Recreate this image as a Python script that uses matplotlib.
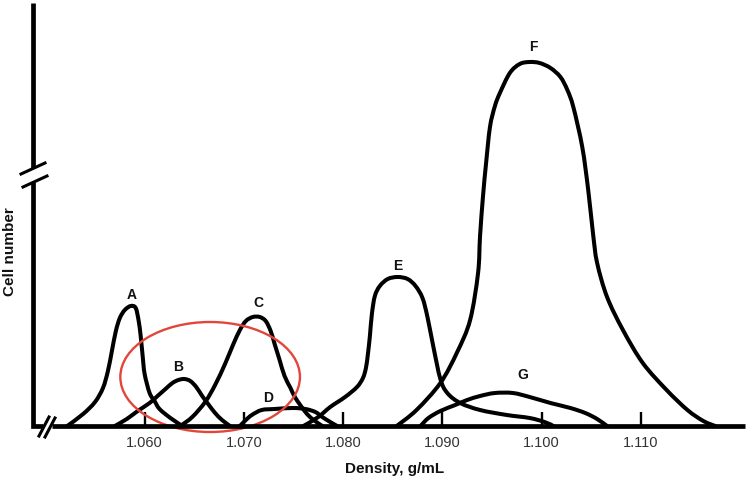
import matplotlib
matplotlib.use("Agg")
import matplotlib.pyplot as plt
from matplotlib.lines import Line2D
from matplotlib.patches import Ellipse, PathPatch
from matplotlib.path import Path

plt.rcParams['font.family'] = ['Liberation Sans', 'DejaVu Sans']

# ---- data (density in g/mL, cell number in arbitrary units) ----
A_x = [1.0522, 1.0538, 1.0550, 1.0558, 1.0563, 1.0567, 1.0571, 1.0575, 1.0580, 1.0586,
       1.0591, 1.0594, 1.0596, 1.0598, 1.0600, 1.0605, 1.0610, 1.0615, 1.0626, 1.0638]
A_y = [0, 12, 24, 38, 55, 75, 95, 108, 116, 120, 118, 105, 90, 70, 52, 33, 25, 17, 8, 0]

B_x = [1.0570, 1.0582, 1.0593, 1.0605, 1.0613, 1.0621, 1.0628, 1.0634, 1.0640, 1.0646,
       1.0652, 1.0658, 1.0664, 1.0671, 1.0678, 1.0686]
B_y = [0, 7, 15, 23, 30, 37, 43, 46, 47, 45, 39, 30, 22, 13, 6, 0]

C_x = [1.0636, 1.0648, 1.0661, 1.0671, 1.0681, 1.0689, 1.0696, 1.0702, 1.0709, 1.0716,
       1.0722, 1.0727, 1.0731, 1.0736, 1.0741, 1.0747, 1.0752, 1.0762, 1.0769, 1.0779]
C_y = [0, 9, 24, 41, 62, 81, 96, 105, 109, 109, 105, 95, 82, 66, 50, 38, 28, 14, 7, 0]

D_x = [1.0696, 1.0702, 1.0708, 1.0718, 1.0731, 1.0749, 1.0762, 1.0772, 1.0779, 1.0787, 1.0794]
D_y = [0, 6, 11, 16, 17, 18, 17, 14, 9, 4, 0]

E_x = [1.0760, 1.0775, 1.0787, 1.0802, 1.0814, 1.0820, 1.0823, 1.0825, 1.0827, 1.0829,
       1.0832, 1.0837, 1.0845, 1.0855, 1.0865, 1.0873, 1.0880, 1.0885, 1.0891, 1.0898,
       1.0905, 1.0918, 1.0938, 1.0965, 1.0988, 1.1003, 1.1012]
E_y = [0, 9, 19, 29, 39, 48, 58, 72, 90, 112, 130, 140, 147, 149, 147, 140, 128, 109, 79, 47,
       33, 23, 16, 11, 8, 4, 0]

F_x = [1.0854, 1.0874, 1.0898, 1.0915, 1.0928, 1.0936, 1.0938, 1.0941, 1.0944, 1.0948,
       1.0953, 1.0958, 1.0968, 1.0978, 1.0988, 1.0998, 1.1009, 1.1019, 1.1026, 1.1032,
       1.1041, 1.1047, 1.1052, 1.1056, 1.1066, 1.1082, 1.1102, 1.1126, 1.1147, 1.1163, 1.1175]
F_y = [0, 16, 43, 74, 106, 153, 190, 230, 262, 299, 320, 333, 353, 362, 364, 363, 358, 349,
       336, 319, 279, 236, 191, 163, 129, 96, 63, 36, 16, 5, 0]

G_x = [1.0878, 1.0886, 1.0898, 1.0913, 1.0925, 1.0938, 1.0953, 1.0971, 1.0988, 1.1009,
       1.1029, 1.1044, 1.1056, 1.1066]
G_y = [0, 8, 15, 21, 26, 30, 33, 33, 29, 23, 18, 13, 7, 0]

curve_names = ['A', 'B', 'C', 'D', 'E', 'F', 'G']
label_x = [1.0587, 1.0634, 1.0715, 1.0724, 1.0855, 1.0992, 1.0981]
label_y = [131, 59, 123, 28, 160, 379, 51]

tick_values = [1.060, 1.070, 1.080, 1.090, 1.100, 1.110]
tick_labels = ['1.060', '1.070', '1.080', '1.090', '1.100', '1.110']

# highlighted region (ellipse): centre density, centre count, width, height
ell_cx, ell_cy, ell_w, ell_h = 1.0666, 49, 0.0181, 110

# ---- figure ----
W, H = 750, 484
fig = plt.figure(figsize=(7.5, 4.84), dpi=100)
ax = fig.add_axes([33 / W, 58 / H, 712 / W, 423 / H])
ax.set_xlim(1.04875, 1.1205)
ax.set_ylim(0, 423)
for s in ax.spines.values():
    s.set_visible(False)
ax.set_yticks([])
ax.set_xticks(tick_values)
ax.set_xticklabels(tick_labels)
ax.tick_params(axis='x', direction='in', length=10, width=1.7, pad=7,
               labelsize=10.5, labelcolor='#333333', color='black')


def smooth_path(xs, ys):
    """Catmull-Rom curve through every given point, as cubic Bezier segments."""
    pts = list(zip(xs, ys))
    n = len(pts)
    verts = [pts[0]]
    codes = [Path.MOVETO]
    for i in range(n - 1):
        p0 = pts[i - 1] if i > 0 else pts[i]
        p1 = pts[i]
        p2 = pts[i + 1]
        p3 = pts[i + 2] if i + 2 < n else pts[i + 1]
        c1 = (p1[0] + (p2[0] - p0[0]) / 6, p1[1] + (p2[1] - p0[1]) / 6)
        c2 = (p2[0] - (p3[0] - p1[0]) / 6, p2[1] - (p3[1] - p1[1]) / 6)
        verts += [c1, c2, p2]
        codes += [Path.CURVE4] * 3
    return Path(verts, codes)


curves = [(A_x, A_y), (B_x, B_y), (C_x, C_y), (D_x, D_y), (E_x, E_y), (F_x, F_y), (G_x, G_y)]
for (cx, cy) in curves:
    ax.add_patch(PathPatch(smooth_path(cx, cy), fill=False, edgecolor='black',
                           lw=2.9, joinstyle='round', capstyle='round',
                           clip_on=False, zorder=3))

for name, lx, ly in zip(curve_names, label_x, label_y):
    ax.text(lx, ly, name, ha='center', va='center', fontsize=10,
            fontweight='bold', color='#111111')

ax.add_patch(Ellipse((ell_cx, ell_cy), ell_w, ell_h, fill=False,
                     edgecolor='#e2463b', lw=1.7, clip_on=False, zorder=4))


def P(px, py):
    return px / W, 1 - py / H


def fline(pts, lw, **kw):
    xs = [P(*p)[0] for p in pts]
    ys = [P(*p)[1] for p in pts]
    fig.add_artist(Line2D(xs, ys, transform=fig.transFigure, color='black',
                          lw=lw, **kw))


# axes lines with break marks
fline([(33, 3), (33, 168)], 3.4, solid_capstyle='butt')
fline([(33, 182), (33, 426), (43, 426)], 3.4, solid_capstyle='butt',
      solid_joinstyle='miter')
fline([(52, 426), (745, 426)], 3.4, solid_capstyle='butt')
fline([(21, 174), (45, 163)], 2.2)
fline([(23, 187), (47, 176)], 2.2)
fline([(39, 436), (49, 417)], 2.2)
fline([(45, 437), (55, 418)], 2.2)

fig.text(395 / W, 1 - 469 / H, 'Density, g/mL', ha='center', va='center',
         fontsize=11, fontweight='bold', color='#111111')
fig.text(10 / W, 1 - 252 / H, 'Cell number', ha='center', va='center',
         rotation=90, fontsize=11, fontweight='bold', color='#111111')

fig.savefig('out.png', dpi=100)
